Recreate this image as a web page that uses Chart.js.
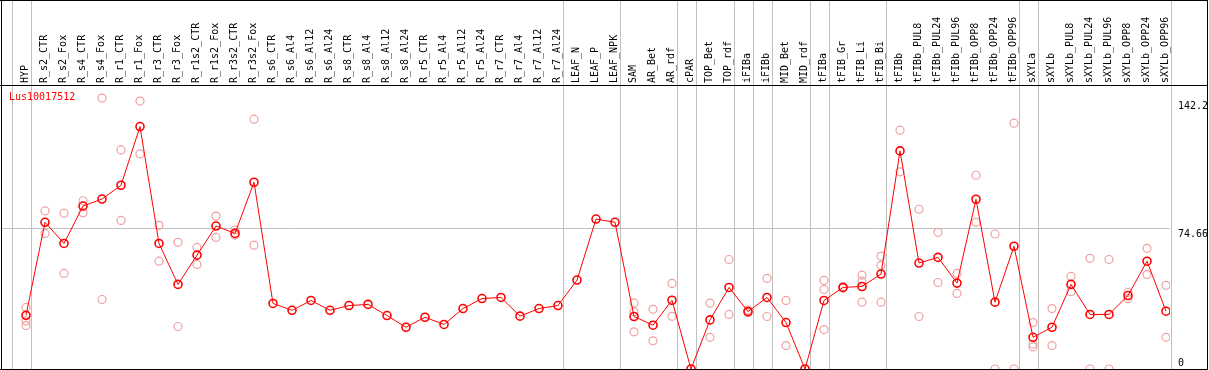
<!DOCTYPE html>
<html>
<head>
<meta charset="utf-8">
<script src="https://cdn.jsdelivr.net/npm/chart.js@4/dist/chart.umd.min.js"></script>
<style>
  html, body { margin: 0; padding: 0; background: #fff; }
  #c { display: block; }
</style>
</head>
<body>
<canvas id="c" width="1209" height="370"></canvas>
<script>
const geneName = 'Lus10017512';

const categories = [
  'HYP','R_s2_CTR','R_s2_Fox','R_s4_CTR','R_s4_Fox','R_r1_CTR','R_r1_Fox','R_r3_CTR','R_r3_Fox',
  'R_r1s2_CTR','R_r1s2_Fox','R_r3s2_CTR','R_r3s2_Fox','R_s6_CTR','R_s6_Al4','R_s6_Al12','R_s6_Al24',
  'R_s8_CTR','R_s8_Al4','R_s8_Al12','R_s8_Al24','R_r5_CTR','R_r5_Al4','R_r5_Al12','R_r5_Al24',
  'R_r7_CTR','R_r7_Al4','R_r7_Al12','R_r7_Al24','LEAF_N','LEAF_P','LEAF_NPK','SAM','AR_Bet','AR_rdf',
  'cPAR','TOP_Bet','TOP_rdf','iFIBa','iFIBb','MID_Bet','MID_rdf','tFIBa','tFIB_Gr','tFIB_Li','tFIB_Bi',
  'tFIBb','tFIBb_PUL8','tFIBb_PUL24','tFIBb_PUL96','tFIBb_OPP8','tFIBb_OPP24','tFIBb_OPP96',
  'sXYLa','sXYLb','sXYLb_PUL8','sXYLb_PUL24','sXYLb_PUL96','sXYLb_OPP8','sXYLb_OPP24','sXYLb_OPP96'
];

const means = [
  28.4, 77.7, 66.5, 86.3, 90.0, 97.3, 128.4, 66.5, 44.8,
  60.3, 75.7, 71.8, 98.9, 34.7, 31.1, 36.3, 31.1,
  33.6, 34.2, 28.3, 22.1, 27.4, 23.6, 32.0, 37.3,
  37.9, 28.0, 32.0, 33.6, 47.1, 79.4, 77.7, 27.8, 23.2, 36.4,
  0, 26.0, 43.2, 30.4, 37.9, 24.6, 0, 36.3, 43.2, 43.7, 50.3,
  115.5, 56.1, 59.1, 45.5, 89.9, 35.4, 65.0,
  16.8, 22.1, 44.8, 28.9, 28.9, 38.9, 57.1, 30.6
];

const rep1 = [
  32.6, 83.7, 82.5, 89.1, 143.5, 116.0, 141.9, 76.1, 67.1,
  64.4, 81.0, 73.6, 132.3, null, null, null, null,
  null, null, null, null, null, null, null, null,
  null, null, null, null, null, null, null, 35.0, 31.6, 45.3,
  null, 34.9, 58.0, 31.2, 48.0, 36.3, null, 46.9, 43.6, 49.7, 59.8,
  126.5, 84.6, 72.4, 50.6, 102.6, 71.5, 130.2,
  24.6, 32.0, 49.0, 58.6, 58.0, 40.5, 63.9, 44.3
];

const rep2 = [
  25.5, 71.8, 50.6, 82.8, 36.8, 78.7, 113.9, 57.1, 22.5,
  55.4, 69.7, 70.9, 65.6, null, null, null, null,
  null, null, null, null, null, null, null, null,
  null, null, null, null, null, null, null, 30.3, 14.9, 27.9,
  null, 16.8, 28.9, 29.8, 27.8, 12.4, null, 42.1, 42.8, 46.5, 54.9,
  104.4, 27.8, 45.8, 40.0, 77.7, 0, 0,
  13.1, 12.4, 41.0, 0, 0, 37.3, 50.0, 16.8
];

const rep3 = [
  23.0, null, null, null, null, null, null, null, null,
  null, null, null, null, null, null, null, null,
  null, null, null, null, null, null, null, null,
  null, null, null, null, null, null, null, 19.7, null, null,
  null, null, null, null, null, null, null, 20.9, null, 35.4, 35.4,
  null, null, null, null, null, null, null,
  11.7, null, null, null, null, null, null, null
];

const yTickValues = [0, 74.66, 142.2];
const yLabelShift = { 0: 'up', 74.66: 'down', 142.2: 'down' };
const groupEnds = [-1, 0, 28, 31, 34, 35, 37, 38, 39, 41, 42, 45, 52, 53, 60];

const toPoints = arr => arr.map((v, i) => ({ x: i, y: v })).filter(p => p.y !== null);

const FONT = 'DejaVu Sans Mono';

const framePlugin = {
  id: 'frame',
  beforeDatasetsDraw(chart) {
    const ctx = chart.ctx, xs = chart.scales.x, ca = chart.chartArea;
    ctx.save();
    ctx.strokeStyle = '#c0c0c0';
    ctx.lineWidth = 1;
    groupEnds.forEach(g => {
      const px = Math.round(xs.getPixelForValue(g + 0.237)) + 0.5;
      ctx.beginPath();
      ctx.moveTo(px, 0);
      ctx.lineTo(px, ca.bottom);
      ctx.stroke();
    });
    ctx.restore();
  },
  afterDraw(chart) {
    const ctx = chart.ctx, ca = chart.chartArea;
    const W = chart.width;
    ctx.save();
    ctx.strokeStyle = '#000';
    ctx.lineWidth = 1;
    ctx.beginPath();
    ctx.moveTo(0, 0.5); ctx.lineTo(W - 1, 0.5);
    ctx.moveTo(0, ca.top + 0.5); ctx.lineTo(W - 1, ca.top + 0.5);
    ctx.moveTo(0, ca.bottom + 0.5); ctx.lineTo(W - 1, ca.bottom + 0.5);
    ctx.moveTo(1.5, 0); ctx.lineTo(1.5, ca.bottom + 1);
    ctx.moveTo(W - 1.5, 0); ctx.lineTo(W - 1.5, ca.bottom + 1);
    ctx.stroke();
    ctx.fillStyle = '#ff0000';
    ctx.font = '10px "' + FONT + '"';
    ctx.textBaseline = 'middle';
    ctx.textAlign = 'left';
    ctx.fillText(geneName, ca.left + 8, ca.top + 12);
    ctx.restore();
  }
};

new Chart(document.getElementById('c'), {
  type: 'line',
  data: {
    datasets: [
      {
        label: geneName,
        data: toPoints(means),
        borderColor: '#ff0000',
        borderWidth: 1,
        pointRadius: 4,
        pointBorderWidth: 1.6,
        pointBorderColor: '#ff0000',
        pointBackgroundColor: 'rgba(0,0,0,0)',
        tension: 0,
        order: 0
      },
      { label: 'rep1', data: toPoints(rep1), showLine: false, pointRadius: 4, pointBorderWidth: 1.2,
        pointBorderColor: '#f0a0a0', pointBackgroundColor: 'rgba(0,0,0,0)', order: 1 },
      { label: 'rep2', data: toPoints(rep2), showLine: false, pointRadius: 4, pointBorderWidth: 1.2,
        pointBorderColor: '#f0a0a0', pointBackgroundColor: 'rgba(0,0,0,0)', order: 1 },
      { label: 'rep3', data: toPoints(rep3), showLine: false, pointRadius: 4, pointBorderWidth: 1.2,
        pointBorderColor: '#f0a0a0', pointBackgroundColor: 'rgba(0,0,0,0)', order: 1 }
    ]
  },
  options: {
    responsive: false,
    animation: false,
    devicePixelRatio: 1,
    layout: { autoPadding: false, padding: { left: 1, right: 0, top: 0, bottom: 1 } },
    plugins: { legend: { display: false }, tooltip: { enabled: false } },
    scales: {
      x: {
        type: 'linear',
        position: 'top',
        min: -25 / 19,
        max: (1170 - 26) / 19,
        afterBuildTicks(scale) { scale.ticks = categories.map((c, i) => ({ value: i })); },
        afterFit(scale) {
          scale.height = 85;
          scale.paddingLeft = 0; scale.paddingRight = 0;
          scale.paddingTop = 0; scale.paddingBottom = 0;
        },
        grid: { display: false, drawTicks: false },
        border: { display: false },
        ticks: {
          autoSkip: false,
          minRotation: 90,
          maxRotation: 90,
          padding: 2,
          labelOffset: 11,
          color: '#000',
          font: { family: FONT, size: 10 },
          callback: v => categories[v]
        }
      },
      y: {
        type: 'linear',
        position: 'right',
        min: 0,
        max: 150.4,
        afterBuildTicks(scale) { scale.ticks = yTickValues.map(v => ({ value: v })); },
        afterFit(scale) {
          scale.width = 39;
          scale.paddingTop = 0; scale.paddingBottom = 0;
          scale.paddingLeft = 0; scale.paddingRight = 0;
        },
        grid: {
          drawTicks: false,
          color: ctx => (ctx.tick && ctx.tick.value === 74.66) ? '#c0c0c0' : 'rgba(0,0,0,0)'
        },
        border: { display: false },
        ticks: {
          padding: 8,
          color: '#000',
          font: { family: FONT, size: 10 },
          callback: v => yLabelShift[v] === 'up' ? [String(v), ''] : ['', String(v)]
        }
      }
    }
  },
  plugins: [framePlugin]
});
</script>
</body>
</html>
